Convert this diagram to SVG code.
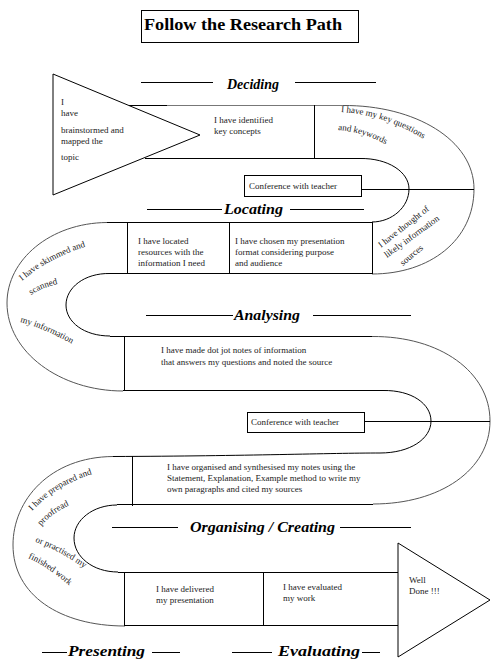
<svg xmlns="http://www.w3.org/2000/svg" width="491" height="661" viewBox="0 0 491 661">
<style>
.t{font-family:"Liberation Serif","Times New Roman",serif;font-size:9px;fill:#222}
.lab{font-family:"Liberation Serif","Times New Roman",serif;font-size:14px;font-weight:bold;font-style:italic;fill:#000}
.ln{stroke:#000;stroke-width:1;fill:none}
.arc{stroke:#555;stroke-width:1;fill:none}
.box{stroke:#000;stroke-width:1;fill:#fff}
</style>
<defs>
<path id="p1" d="M 341 112 Q 390 115 436 147"/>
<path id="p2" d="M 338 130 Q 366 132 394 149"/>
<path id="p6" d="M 22 281 Q 52 255 98 243"/>
<path id="p7" d="M 31 295 Q 43 287 58 284"/>
<path id="p8" d="M 20 322 Q 50 330 82 350"/>
<path id="p9" d="M 32 511 Q 60 481 104 471"/>
<path id="p10" d="M 41 526 Q 56 509 78 502"/>
<path id="p11" d="M 35 542 Q 63 551 93 575"/>
<path id="p12" d="M 28 558 Q 51 568 76 592"/>
</defs>
<rect width="491" height="661" fill="#fff"/>

<g id="title">
<rect x="141.5" y="10.5" width="217" height="32" fill="none" stroke="#000"/>
<text x="144" y="30" font-family="Liberation Serif, serif" font-size="17" font-weight="bold" textLength="198" lengthAdjust="spacingAndGlyphs">Follow the Research Path</text>
</g>

<g id="connectors">
<path class="ln" d="M 129 105.5 H 167"/>
<path d="M 167 105.5 H 343" stroke="#777" stroke-width="1.2" fill="none"/>
<path class="ln" d="M 145 158.5 H 360"/>
<path class="arc" d="M 343 105.5 C 415 105 474 140 474 189 C 474 240 430 274 372 274"/>
<path class="ln" d="M 360 158.5 C 388 158 409 172 409 189 C 409 207 392 222 372 222"/>
<path class="ln" d="M 361 189.5 H 474"/>
<path class="ln" d="M 107 222.5 H 372"/>
<path class="ln" d="M 110 273.5 H 373"/>
<path class="arc" d="M 107 222.5 C 50 223 7 260 7 303 C 7 352 60 391 123 391"/>
<path class="ln" d="M 110 273.5 C 84 273 66 288 66 305 C 66 322 84 336 110 336"/>
<path class="ln" d="M 110 336.5 H 372"/>
<path class="ln" d="M 123 390.5 H 383"/>
<path class="arc" d="M 372 336.5 C 440 336 490 372 490 421 C 490 470 440 504 373 504"/>
<path class="ln" d="M 383 390.5 C 412 390 431 404 431 421 C 431 439 410 453 380 453"/>
<path class="ln" d="M 364 421.5 H 490"/>
<path class="ln" d="M 113 456.5 C 250 456 330 453 380 453"/>
<path class="ln" d="M 117 504.5 H 373"/>
<path class="arc" d="M 113 456.5 C 50 457 13 500 13 545 C 13 595 60 626 125 626"/>
<path class="ln" d="M 117 505 C 93 505 74 520 74 538 C 74 557 93 572 118 572"/>
<path class="ln" d="M 118 572.5 H 398"/>
<path class="ln" d="M 125 625.5 H 398"/>
</g>

<g id="start">
<polygon class="ln" points="53,74 200,135 53,195" fill="#fff"/>
<text class="t" x="61" y="105">I</text>
<text class="t" x="61" y="116">have</text>
<text class="t" x="61" y="133">brainstormed and</text>
<text class="t" x="61" y="144">mapped the</text>
<text class="t" x="61" y="160">topic</text>
</g>

<g id="label-deciding">
<path class="ln" d="M 141 82.5 H 213 M 295 82.5 H 376"/>
<text class="lab" x="227" y="89" textLength="52" lengthAdjust="spacingAndGlyphs">Deciding</text>
</g>

<g id="key-concepts">
<path class="ln" d="M 314.5 105 V 158"/>
<text class="t" x="214" y="123">I have identified</text>
<text class="t" x="214" y="134">key concepts</text>
</g>

<g id="key-questions">
<text class="t"><textPath href="#p1">I have my key questions</textPath></text>
<text class="t"><textPath href="#p2">and keywords</textPath></text>
</g>

<g id="conference-1">
<rect class="box" x="244.5" y="175.5" width="117" height="21"/>
<text class="t" x="249" y="189">Conference with teacher</text>
</g>

<g id="label-locating">
<path class="ln" d="M 147 209.5 H 222 M 290 209.5 H 364"/>
<text class="lab" x="224" y="214" textLength="59" lengthAdjust="spacingAndGlyphs">Locating</text>
</g>

<g id="information-sources">
<path class="ln" d="M 372.5 222 V 274"/>
<text class="t" transform="translate(381 248) rotate(-38)">I have thought of</text>
<text class="t" transform="translate(387 258) rotate(-36)">likely information</text>
<text class="t" transform="translate(403 266) rotate(-40)">sources</text>
</g>

<g id="located-resources">
<path class="ln" d="M 127.5 222 V 273 M 229.5 222 V 273"/>
<text class="t" x="138" y="244">I have located</text>
<text class="t" x="138" y="255">resources with the</text>
<text class="t" x="138" y="266">information I need</text>
</g>

<g id="presentation-format">
<text class="t" x="235" y="244">I have chosen my presentation</text>
<text class="t" x="235" y="255">format considering purpose</text>
<text class="t" x="235" y="266">and audience</text>
</g>

<g id="skimmed">
<text class="t"><textPath href="#p6">I have skimmed and</textPath></text>
<text class="t"><textPath href="#p7">scanned</textPath></text>
<text class="t"><textPath href="#p8">my information</textPath></text>
</g>

<g id="label-analysing">
<path class="ln" d="M 146 315.5 H 233 M 313 315.5 H 411"/>
<text class="lab" x="234" y="320" textLength="66" lengthAdjust="spacingAndGlyphs">Analysing</text>
</g>

<g id="notes">
<path class="ln" d="M 124.5 336 V 391"/>
<text class="t" x="161" y="353">I have made dot jot notes of information</text>
<text class="t" x="161" y="365">that answers my questions and noted the source</text>
</g>

<g id="conference-2">
<rect class="box" x="247.5" y="412.5" width="117" height="20"/>
<text class="t" x="251" y="425">Conference with teacher</text>
</g>

<g id="organised">
<path class="ln" d="M 132.5 456 V 506"/>
<text class="t" x="167" y="470">I have organised and synthesised my notes using the</text>
<text class="t" x="167" y="481">Statement, Explanation, Example method to write my</text>
<text class="t" x="167" y="492">own paragraphs and cited my sources</text>
</g>

<g id="proofread">
<text class="t"><textPath href="#p9">I have prepared and</textPath></text>
<text class="t"><textPath href="#p10">proofread</textPath></text>
<text class="t"><textPath href="#p11">or practised my</textPath></text>
<text class="t"><textPath href="#p12">finished work</textPath></text>
</g>

<g id="label-organising">
<path class="ln" d="M 112 527.5 H 178 M 340 527.5 H 411"/>
<text class="lab" x="190" y="532" textLength="145" lengthAdjust="spacingAndGlyphs">Organising / Creating</text>
</g>

<g id="delivered">
<path class="ln" d="M 124.5 572 V 626"/>
<text class="t" x="156" y="592">I have delivered</text>
<text class="t" x="156" y="603">my presentation</text>
</g>

<g id="evaluated">
<path class="ln" d="M 263.5 572 V 626"/>
<text class="t" x="283" y="590">I have evaluated</text>
<text class="t" x="283" y="601">my work</text>
</g>

<g id="end">
<polygon class="ln" points="398,543 490,600 398,657" fill="#fff"/>
<text class="t" x="409" y="583">Well</text>
<text class="t" x="409" y="594">Done !!!</text>
</g>

<g id="label-presenting">
<path class="ln" d="M 42 652.5 H 67 M 152 652.5 H 180"/>
<text class="lab" x="68" y="656" font-size="13" textLength="77" lengthAdjust="spacingAndGlyphs">Presenting</text>
</g>

<g id="label-evaluating">
<path class="ln" d="M 232 652.5 H 272 M 362 652.5 H 380"/>
<text class="lab" x="278" y="656" font-size="13" textLength="82" lengthAdjust="spacingAndGlyphs">Evaluating</text>
</g>
</svg>
